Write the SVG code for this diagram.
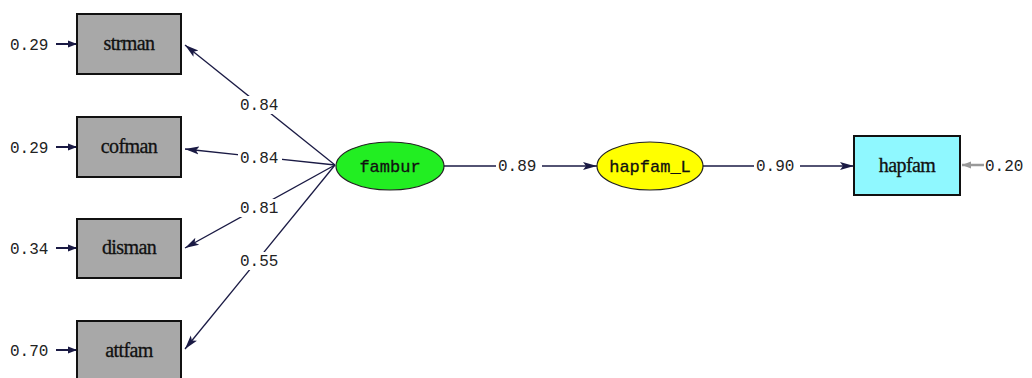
<svg xmlns="http://www.w3.org/2000/svg" width="1032" height="378" viewBox="0 0 1032 378">
  <style>
    .obs { fill: #a8a8a8; stroke: #111; stroke-width: 2; }
    .out { fill: #8ff8ff; stroke: #111; stroke-width: 2; }
    .lat1 { fill: #22ee22; stroke: #222; stroke-width: 1.2; }
    .lat2 { fill: #ffff00; stroke: #222; stroke-width: 1.2; }
    .vname { font-family: "Liberation Serif", "DejaVu Serif", serif; font-size: 20px; fill: #111; stroke: #111; stroke-width: 0.3; text-anchor: middle; letter-spacing: -0.6px; }
    .lname { font-family: "Liberation Mono", "DejaVu Sans Mono", monospace; font-size: 17px; fill: #111; stroke: #111; stroke-width: 0.3; text-anchor: middle; }
    .num { font-family: "Liberation Mono", "DejaVu Sans Mono", monospace; font-size: 16px; fill: #222; }
    .edge { stroke: #1a1a44; stroke-width: 1.3; fill: none; }
    .err { stroke: #1a1a44; stroke-width: 2; fill: none; }
    .errg { stroke: #999; stroke-width: 2.5; fill: none; }
    .bg { fill: #fff; }
  </style>
  <defs>
    <marker id="ah" markerUnits="userSpaceOnUse" markerWidth="15" markerHeight="11" refX="14" refY="5.5" orient="auto">
      <path d="M0,1.5 L14,5.5 L0,9.5 L3,5.5 Z" fill="#1a1a44"/>
    </marker>
    <marker id="ahs" markerUnits="userSpaceOnUse" markerWidth="10" markerHeight="8" refX="9" refY="4" orient="auto">
      <path d="M0,0.5 L9,4 L0,7.5 Z" fill="#1a1a44"/>
    </marker>
    <marker id="ahg" markerUnits="userSpaceOnUse" markerWidth="10" markerHeight="8" refX="9" refY="4" orient="auto">
      <path d="M0,0.5 L9,4 L0,7.5 Z" fill="#999"/>
    </marker>
  </defs>

  <!-- paths and coefficient labels -->
  <g id="connectors">
    <line class="edge" x1="335" y1="165" x2="185" y2="45" marker-end="url(#ah)"/>
    <line class="edge" x1="335" y1="165" x2="185" y2="149" marker-end="url(#ah)"/>
    <line class="edge" x1="335" y1="165" x2="185" y2="248" marker-end="url(#ah)"/>
    <line class="edge" x1="335" y1="165" x2="185" y2="349" marker-end="url(#ah)"/>
    <line class="edge" x1="444" y1="166" x2="597" y2="166" marker-end="url(#ah)"/>
    <line class="edge" x1="703" y1="166" x2="854" y2="166" marker-end="url(#ah)"/>
    <!-- error variances -->
    <line class="err" x1="56" y1="44" x2="77" y2="44" marker-end="url(#ahs)"/>
    <line class="err" x1="56" y1="147" x2="77" y2="147" marker-end="url(#ahs)"/>
    <line class="err" x1="56" y1="248" x2="77" y2="248" marker-end="url(#ahs)"/>
    <line class="err" x1="56" y1="350" x2="77" y2="350" marker-end="url(#ahs)"/>
    <line class="errg" x1="984" y1="165" x2="962" y2="165" marker-end="url(#ahg)"/>

    <rect class="bg" x="238" y="96" width="44" height="18"/>
    <text class="num" x="240" y="110">0.84</text>
    <rect class="bg" x="238" y="149" width="44" height="18"/>
    <text class="num" x="240" y="163">0.84</text>
    <rect class="bg" x="238" y="199" width="44" height="18"/>
    <text class="num" x="240" y="213">0.81</text>
    <rect class="bg" x="238" y="252" width="44" height="18"/>
    <text class="num" x="240" y="266">0.55</text>
    <rect class="bg" x="496" y="157" width="46" height="18"/>
    <text class="num" x="498" y="171">0.89</text>
    <rect class="bg" x="754" y="157" width="46" height="18"/>
    <text class="num" x="756" y="171">0.90</text>

    <text class="num" x="10" y="50">0.29</text>
    <text class="num" x="10" y="153">0.29</text>
    <text class="num" x="10" y="254">0.34</text>
    <text class="num" x="10" y="356">0.70</text>
    <text class="num" x="985" y="171">0.20</text>
  </g>

  <g id="strman">
    <rect class="obs" x="77" y="14" width="104" height="60"/>
    <text class="vname" x="129" y="50">strman</text>
  </g>
  <g id="cofman">
    <rect class="obs" x="77" y="117" width="104" height="60"/>
    <text class="vname" x="129" y="153">cofman</text>
  </g>
  <g id="disman">
    <rect class="obs" x="77" y="219" width="104" height="59"/>
    <text class="vname" x="129" y="254">disman</text>
  </g>
  <g id="attfam">
    <rect class="obs" x="77" y="321" width="104" height="60"/>
    <text class="vname" x="129" y="357">attfam</text>
  </g>
  <g id="fambur">
    <ellipse class="lat1" cx="390" cy="166" rx="54" ry="24"/>
    <text class="lname" x="390" y="172">fambur</text>
  </g>
  <g id="hapfam_L">
    <ellipse class="lat2" cx="650" cy="166" rx="53" ry="24"/>
    <text class="lname" x="650" y="172">hapfam_L</text>
  </g>
  <g id="hapfam">
    <rect class="out" x="854" y="136" width="106" height="59"/>
    <text class="vname" x="907" y="172">hapfam</text>
  </g>
</svg>
